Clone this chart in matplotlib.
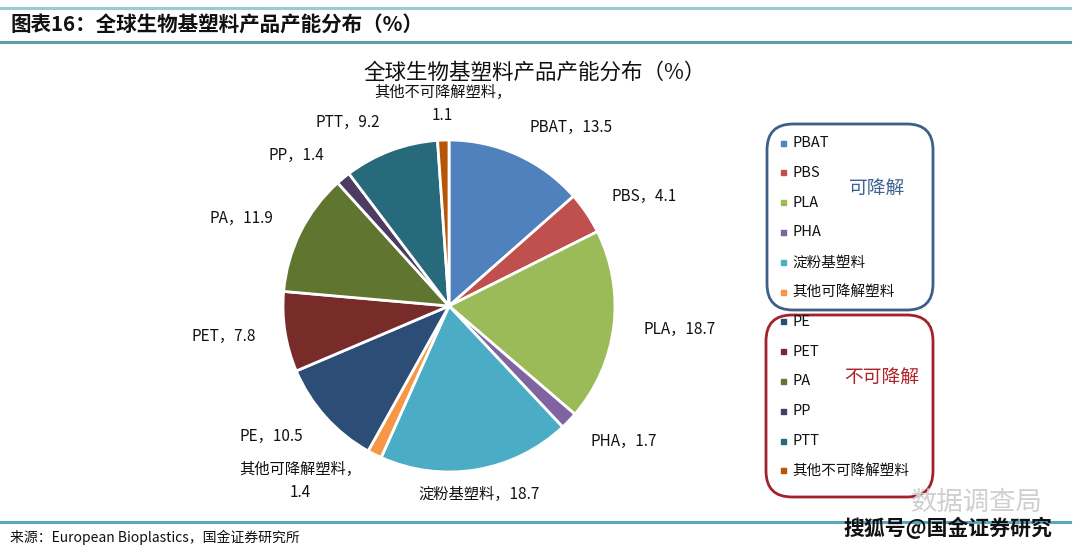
import numpy as np
import matplotlib
matplotlib.use('Agg')
from matplotlib import pyplot
from matplotlib.patches import FancyBboxPatch, Rectangle

pyplot.rcParams['font.family'] = ['Noto Sans CJK SC', 'DejaVu Sans']

# data
categories = ['PBAT', 'PBS', 'PLA', 'PHA', '淀粉基塑料', '其他可降解塑料',
              'PE', 'PET', 'PA', 'PP', 'PTT', '其他不可降解塑料']
shares = [13.5, 4.1, 18.7, 1.7, 18.7, 1.4, 10.5, 7.8, 11.9, 1.4, 9.2, 1.1]
colors = ['#4F81BD', '#C0504D', '#9BBB59', '#8064A2', '#4BACC6', '#F79646',
          '#2C4D75', '#772C2A', '#5F7530', '#4D3B62', '#276A7C', '#B65708']
two_line = ['其他可降解塑料', '其他不可降解塑料']

W, H = 1080, 552
fig = pyplot.figure(figsize=(W / 100, H / 100), dpi=100)

# overlay in pixel coordinates for the frame, legend and notes
bg = fig.add_axes([0, 0, 1, 1])
bg.set_xlim(0, W)
bg.set_ylim(H, 0)
bg.axis('off')

# pie axes: centre (449, 306), radius 166 px
R = 166.0
cx, cy = 449, 306
aw, ah = 600, 440
ax = fig.add_axes([(cx - aw / 2) / W, (H - cy - ah / 2) / H, aw / W, ah / H])
wedges, _ = ax.pie(shares, colors=colors, startangle=90, counterclock=False,
                   wedgeprops=dict(edgecolor='white', linewidth=2))
ax.set_xlim(-aw / 2 / R, aw / 2 / R)
ax.set_ylim(-ah / 2 / R, ah / 2 / R)
ax.set_aspect('auto')

# labels outside the wedges
lab = dict(fontsize=11, color='#111111')
for w, name, val in zip(wedges, categories, shares):
    ang = np.deg2rad((w.theta1 + w.theta2) / 2)
    c, s = np.cos(ang), np.sin(ang)
    if abs(c) < 0.3:
        # top / bottom labels sit just off the rim
        x, y = 1.1 * c, 1.1 * s
        va = 'bottom' if s > 0 else 'top'
        if name in two_line:
            ax.text(x, y, str(val), ha='center', va=va, **lab)
            ax.annotate(name + '，', (x, y), xytext=(0, 16), textcoords='offset points',
                        ha='center', va=va, **lab)
        else:
            ax.text(x, y, '%s，%s' % (name, val), ha='center', va=va, **lab)
        continue
    x, y = 1.18 * c, 1.18 * s
    ha = 'left' if c > 0 else 'right'
    if name in two_line:
        txt = '%s，\n%s' % (name, val)
    else:
        txt = '%s，%s' % (name, val)
    ax.text(x, y, txt, ha=ha, va='center', multialignment='center',
            linespacing=1.5, **lab)

# chart title
bg.text(535, 73, '全球生物基塑料产品产能分布（%）', ha='center', va='center',
        fontsize=15.5, color='#111111')

# report header and footer
bg.plot([0, 1070], [8, 8], color='#9ACAD6', lw=2.2)
bg.plot([0, 1070], [42, 42], color='#5E9DAE', lw=2.2)
bg.plot([0, 1070], [522, 522], color='#5AA6BA', lw=2.2)
bg.text(10, 25, '图表16：全球生物基塑料产品产能分布（%）', ha='left', va='center',
        fontsize=14.8, fontweight='bold', color='#111111')
bg.text(10, 537, '来源：European Bioplastics，国金证券研究所', ha='left',
        va='center', fontsize=10, color='#111111')

# legend groups
bg.add_patch(FancyBboxPatch((767, 124), 166, 186,
                            boxstyle='round,pad=0,rounding_size=26',
                            fill=False, edgecolor='#3E5F87', lw=2))
bg.add_patch(FancyBboxPatch((766, 315), 167, 182,
                            boxstyle='round,pad=0,rounding_size=26',
                            fill=False, edgecolor='#A2232B', lw=2))
for i, (name, col) in enumerate(zip(categories, colors)):
    yy = 143 + i * 29.8
    bg.add_patch(Rectangle((781, yy - 2.5), 5, 5, color=col))
    bg.text(792, yy, name, ha='left', va='center', fontsize=10.5, color='#111111')
bg.text(877, 188, '可降解', ha='center', va='center', fontsize=13.5, color='#3F6390')
bg.text(882, 377, '不可降解', ha='center', va='center', fontsize=13.5, color='#B0232B')

# watermark
bg.text(977, 502, '数据调查局', ha='center', va='center', fontsize=19,
        color='#CFCFCF')
bg.text(948, 528, '搜狐号@国金证券研究', ha='center', va='center', fontsize=15,
        fontweight='bold', color='#111111')

pyplot.savefig('out.png', dpi=100)
